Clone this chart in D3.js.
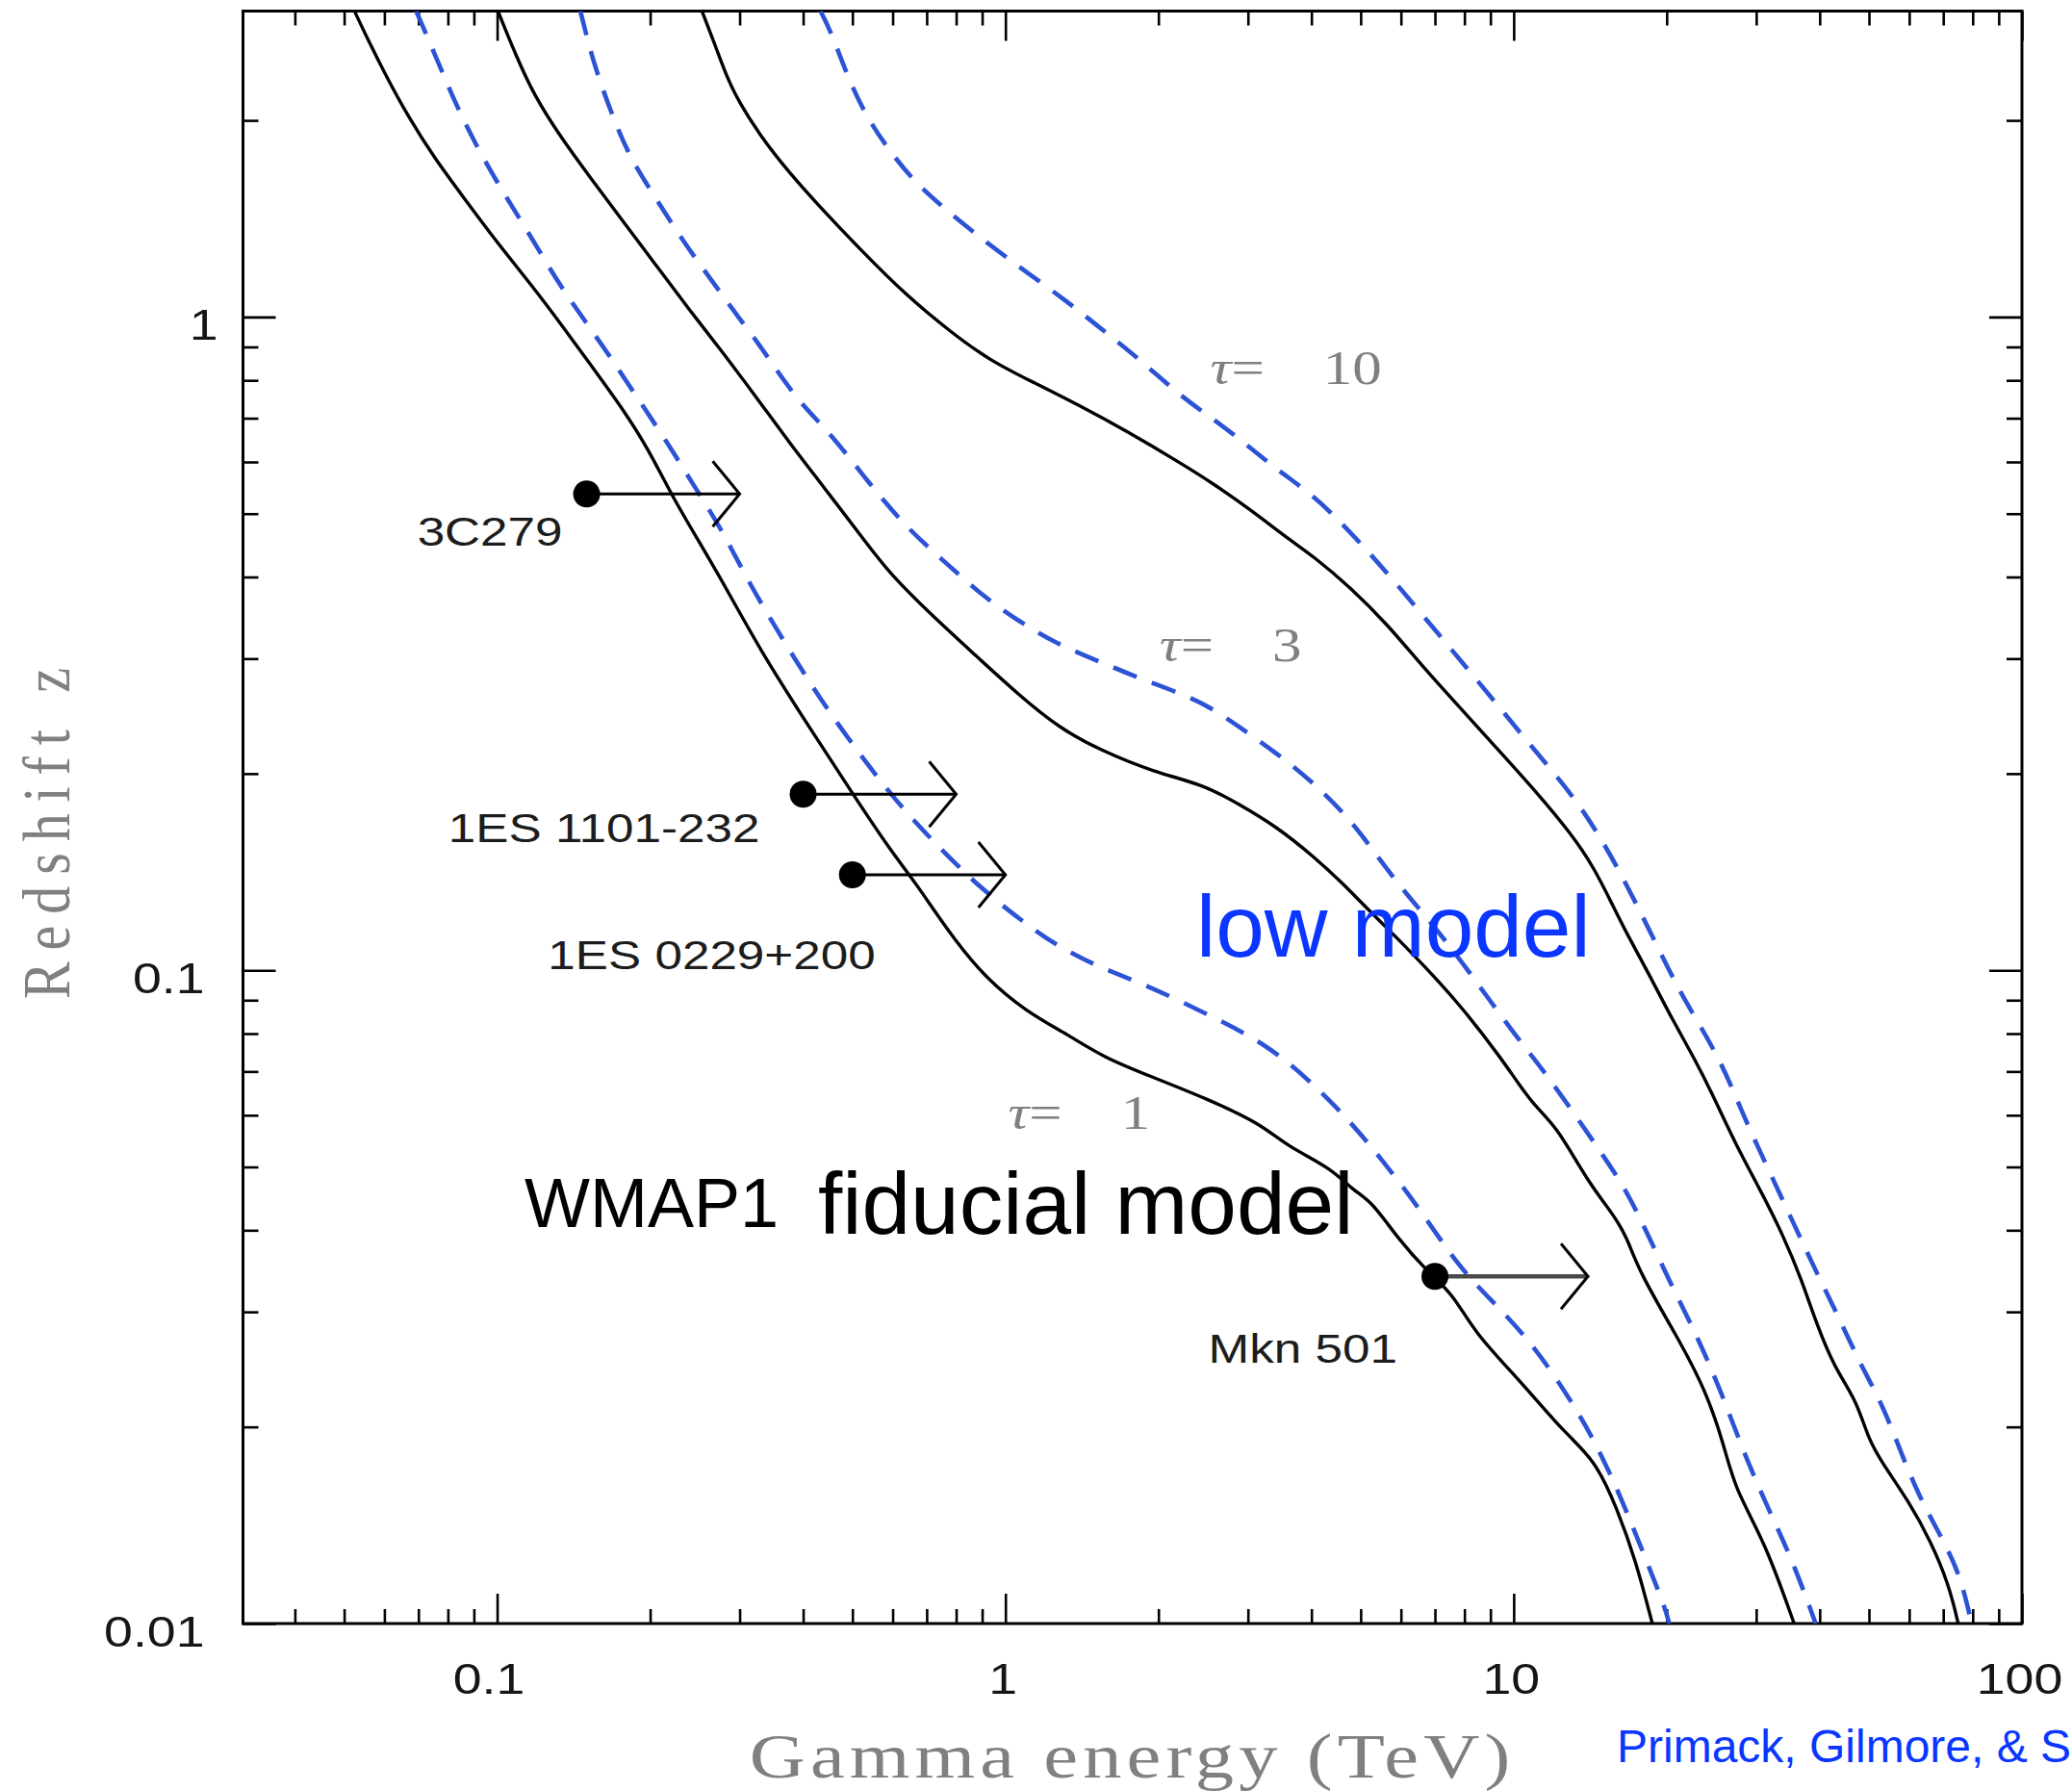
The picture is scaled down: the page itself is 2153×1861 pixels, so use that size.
<!DOCTYPE html>
<html>
<head>
<meta charset="utf-8">
<script src="https://cdn.jsdelivr.net/npm/d3@7"></script>
<style>
  html, body { margin: 0; padding: 0; background: #fff; }
  svg { display: block; }
</style>
</head>
<body>
<svg id="chart" width="2153" height="1861"></svg>
<script>
// Gamma-ray horizon: energy (TeV) at which the optical depth reaches tau, versus redshift z.
// Each curve is a list of [energy TeV, redshift].
const tau1Fiducial = [[0.0524,2.94],[0.0558,2.65],[0.0606,2.33],[0.0670,2.02],[0.0753,1.75],[0.0861,1.52],[0.100,1.30],[0.1163,1.125],[0.1352,0.963],[0.1545,0.835],[0.1766,0.724],[0.1986,0.627],[0.2195,0.537],[0.2467,0.460],[0.2795,0.390],[0.3302,0.308],[0.4035,0.241],[0.5013,0.186],[0.5925,0.153],[0.6664,0.136],[0.7613,0.1165],[0.900,0.0983],[1.099,0.0864],[1.321,0.0799],[1.562,0.0735],[1.940,0.0687],[2.479,0.0637],[3.184,0.0582],[3.580,0.0538],[4.374,0.0498],[4.834,0.0460],[5.255,0.0443],[5.909,0.0389],[6.752,0.0346],[7.592,0.0320],[8.392,0.0278],[10.32,0.0235],[12.57,0.0196],[14.46,0.0178],[15.98,0.0150],[17.38,0.0125],[18.74,0.0100]];
const tau1Low = [[0.0693,2.94],[0.0766,2.453],[0.0833,2.099],[0.0921,1.796],[0.1035,1.537],[0.1163,1.332],[0.1307,1.140],[0.1470,1.00],[0.1652,0.880],[0.1888,0.752],[0.2158,0.644],[0.2467,0.544],[0.2772,0.4716],[0.3141,0.3896],[0.3650,0.3206],[0.4314,0.2604],[0.5099,0.2172],[0.6025,0.1834],[0.7120,0.1590],[0.8700,0.1361],[1.045,0.1211],[1.257,0.1091],[1.536,0.1009],[1.898,0.0949],[2.479,0.0859],[3.237,0.0774],[3.956,0.0680],[4.753,0.0589],[5.526,0.0511],[6.529,0.0432],[7.719,0.0355],[8.979,0.0314],[10.79,0.0271],[12.85,0.0222],[14.46,0.0190],[16.26,0.0156],[17.97,0.01286],[19.86,0.01058],[20.23,0.0100]];
const tau3Fiducial = [[0.1002,2.95],[0.1088,2.517],[0.1183,2.182],[0.1330,1.891],[0.1520,1.640],[0.1766,1.404],[0.2053,1.201],[0.2386,1.027],[0.2772,0.885],[0.3239,0.753],[0.3758,0.642],[0.4378,0.551],[0.5375,0.4467],[0.5925,0.405],[0.7120,0.351],[0.8700,0.3043],[1.063,0.2638],[1.278,0.2347],[1.536,0.2172],[1.966,0.2009],[2.445,0.1926],[2.890,0.1794],[3.415,0.1659],[4.035,0.1495],[4.613,0.1358],[5.100,0.1252],[5.909,0.1119],[6.982,0.0978],[7.980,0.0870],[9.428,0.0735],[10.25,0.0668],[11.14,0.0613],[12.19,0.0574],[14.01,0.0474],[15.70,0.0423],[16.69,0.0391],[17.67,0.0345],[20.88,0.02766],[23.87,0.02277],[25.94,0.01874],[27.28,0.01603],[31.17,0.01337],[35.63,0.0100]];
const tau3Low = [[0.1458,2.94],[0.1545,2.453],[0.1680,2.045],[0.1826,1.75],[0.2053,1.52],[0.2307,1.315],[0.2638,1.140],[0.3015,0.988],[0.3258,0.914],[0.3445,0.857],[0.3925,0.741],[0.4550,0.661],[0.5378,0.558],[0.6358,0.4776],[0.7613,0.4212],[0.8999,0.3747],[1.063,0.3421],[1.257,0.3164],[1.536,0.2965],[1.877,0.2779],[2.445,0.2580],[2.890,0.2355],[3.415,0.2151],[4.035,0.1939],[4.770,0.1703],[5.452,0.1476],[6.129,0.1313],[6.752,0.1203],[7.719,0.1057],[8.820,0.0916],[10.08,0.0795],[11.36,0.0708],[13.23,0.0600],[15.00,0.0520],[16.59,0.0463],[18.26,0.0398],[20.53,0.0327],[23.08,0.0273],[25.51,0.02277],[28.19,0.0185],[31.17,0.0154],[35.05,0.0127],[38.76,0.0103],[39.27,0.0100]];
const tau10Fiducial = [[0.2529,2.94],[0.2698,2.581],[0.2831,2.331],[0.2983,2.141],[0.3282,1.902],[0.3733,1.672],[0.4302,1.478],[0.5200,1.265],[0.6358,1.082],[0.7768,0.951],[0.9333,0.857],[1.140,0.793],[1.394,0.733],[1.732,0.669],[2.225,0.596],[2.554,0.557],[3.041,0.5066],[3.622,0.456],[4.035,0.4303],[4.770,0.3858],[5.638,0.3388],[6.661,0.290],[7.875,0.2514],[9.305,0.2179],[10.99,0.1889],[13.00,0.1616],[14.37,0.1438],[15.62,0.1263],[16.69,0.1138],[18.37,0.0994],[20.31,0.0853],[22.70,0.0732],[24.68,0.0643],[27.28,0.0543],[30.66,0.0459],[33.89,0.0393],[36.86,0.0336],[39.40,0.0288],[42.82,0.0246],[47.35,0.0219],[49.79,0.0192],[53.22,0.01756],[59.83,0.0154],[66.13,0.01337],[71.90,0.01144],[74.91,0.0100]];
const tau10Low = [[0.4327,2.94],[0.4550,2.721],[0.4864,2.359],[0.5289,2.045],[0.5846,1.819],[0.6573,1.619],[0.7636,1.459],[0.9177,1.30],[1.103,1.170],[1.326,1.055],[1.566,0.951],[1.851,0.857],[2.188,0.762],[2.509,0.706],[2.890,0.651],[3.415,0.584],[4.035,0.534],[4.770,0.469],[5.638,0.406],[6.661,0.3477],[7.875,0.2975],[9.305,0.2546],[10.99,0.2172],[13.00,0.1864],[14.85,0.1595],[16.42,0.1383],[17.85,0.1218],[19.44,0.1064],[21.68,0.0898],[25.51,0.0732],[28.19,0.0603],[31.70,0.0496],[35.63,0.0408],[39.40,0.0345],[43.54,0.0295],[48.14,0.0249],[53.22,0.0216],[57.85,0.01825],[62.88,0.0156],[69.53,0.01354],[75.56,0.01189],[79.62,0.0100]];

const tauValues = [1, 3, 10];

// Observed blazars: redshift and highest detected energy (TeV); arrows mark lower limits.
const sourceNames = ["3C279", "1ES 1101-232", "1ES 0229+200", "Mkn 501"];
const sourceEnergy = [0.15, 0.4, 0.5, 7];
const sourceRedshift = [0.536, 0.186, 0.14, 0.034];
const arrowFactor = 2;

const xTickLabels = [0.1, 1, 10, 100];
const yTickLabels = [0.01, 0.1, 1];

// ---------------------------------------------------------------------------
const W = 2153, H = 1861;
const plot = { left: 252.5, right: 2101, top: 11.5, bottom: 1687 };
const STRETCH = 1.22;           // the figure's lettering is set wide
const SANS = "'Liberation Sans', Arial, Helvetica, sans-serif";
const SERIF = "'Liberation Serif', 'Times New Roman', serif";
const BLUE_TEXT = "#0a36ff";
const DASH_BLUE = "#2c52d6";
const GREY = "#808080";

const svg = d3.select("#chart");
svg.append("rect").attr("width", W).attr("height", H).attr("fill", "#fff");

const x = d3.scaleLog().domain([Math.pow(10, -1.5), 100]).range([plot.left, plot.right]);
const y = d3.scaleLog().domain([0.01, 2.94]).range([plot.bottom, plot.top]);

// minor tick values 2..9 in each decade inside the domain
function minorTicks(scale, decades) {
  const [lo, hi] = scale.domain();
  const out = [];
  decades.forEach(d => {
    for (let k = 2; k <= 9; k++) {
      const v = +(k * d).toPrecision(3);
      if (v > lo && v < hi) out.push(v);
    }
  });
  return out;
}
const xMinor = minorTicks(x, [0.01, 0.1, 1, 10]);
const yMinor = minorTicks(y, [0.01, 0.1, 1]);

function drawAxis(gen, transform, values, size, withLabels) {
  const g = svg.append("g")
    .attr("transform", transform)
    .call(gen.tickValues(values).tickSize(size).tickSizeOuter(0)
      .tickFormat(withLabels ? (d => String(d)) : ""));
  g.select(".domain").remove();
  g.selectAll(".tick line").attr("stroke", "#000").attr("stroke-width", 2.6);
  g.attr("font-family", SANS).attr("font-size", 44);
  return g;
}

// bottom and top (ticks point inward)
drawAxis(d3.axisBottom(x), `translate(0,${plot.bottom})`, xMinor, -15, false);
const gxb = drawAxis(d3.axisBottom(x), `translate(0,${plot.bottom})`, xTickLabels, -31, true);
gxb.selectAll(".tick text")
  .attr("x", 0).attr("y", 0).attr("dy", null)
  .attr("fill", "#161616")
  .attr("transform", d => `translate(${d < 1 ? -9 : -3},73) scale(${STRETCH},1)`);
drawAxis(d3.axisTop(x), `translate(0,${plot.top})`, xMinor, -15, false);
drawAxis(d3.axisTop(x), `translate(0,${plot.top})`, xTickLabels, -31, false);

// left and right
drawAxis(d3.axisLeft(y), `translate(${plot.left},0)`, yMinor, -16, false);
const gyl = drawAxis(d3.axisLeft(y), `translate(${plot.left},0)`, yTickLabels, -34, true);
gyl.selectAll(".tick text")
  .attr("x", 0).attr("y", 0).attr("dy", null)
  .attr("fill", "#161616")
  .attr("transform", d => `translate(${d === 1 ? -26 : -40},23) scale(${STRETCH},1)`);
drawAxis(d3.axisRight(y), `translate(${plot.right},0)`, yMinor, -16, false);
drawAxis(d3.axisRight(y), `translate(${plot.right},0)`, yTickLabels, -34, false);

// plot frame
svg.append("rect")
  .attr("x", plot.left).attr("y", plot.top)
  .attr("width", plot.right - plot.left).attr("height", plot.bottom - plot.top)
  .attr("fill", "none").attr("stroke", "#000").attr("stroke-width", 3);

// curves
svg.append("clipPath").attr("id", "plotClip")
  .append("rect")
  .attr("x", plot.left).attr("y", plot.top)
  .attr("width", plot.right - plot.left).attr("height", plot.bottom - plot.top);

const curveLine = d3.line()
  .x(d => x(d[0]))
  .y(d => y(d[1]))
  .curve(d3.curveBasis);

const curves = [
  { data: tau1Fiducial, low: false },
  { data: tau1Low, low: true },
  { data: tau3Fiducial, low: false },
  { data: tau3Low, low: true },
  { data: tau10Fiducial, low: false },
  { data: tau10Low, low: true }
];
const gCurves = svg.append("g").attr("clip-path", "url(#plotClip)");
gCurves.selectAll("path.curve")
  .data(curves)
  .join("path")
  .attr("class", "curve")
  .attr("d", c => curveLine(c.data))
  .attr("fill", "none")
  .attr("stroke", c => c.low ? DASH_BLUE : "#000")
  .attr("stroke-width", c => c.low ? 4.6 : 3.4)
  .attr("stroke-dasharray", c => c.low ? "26,17" : null)
  .attr("stroke-linejoin", "round");

// helper for wide-set lettering
function wideText(parent, px, py, str, opts) {
  return parent.append("text")
    .attr("transform", `translate(${px},${py}) scale(${STRETCH},1)`)
    .attr("text-anchor", opts.anchor || "start")
    .attr("font-family", opts.family || SANS)
    .attr("font-size", opts.size)
    .attr("fill", opts.fill || "#000")
    .text(str);
}

// tau labels, anchored in data coordinates
const tauLabelAt = [[1.012, 0.0571], [2.01, 0.2975], [2.53, 0.790]];
tauValues.forEach((t, i) => {
  const el = wideText(svg, x(tauLabelAt[i][0]), y(tauLabelAt[i][1]), "", { family: SERIF, size: 50, fill: GREY });
  el.append("tspan").attr("font-style", "italic").text("τ");
  el.append("tspan").text("=");
  el.append("tspan").attr("dx", "1.0em").text(String(t));
});

// sources: dot + lower-limit arrow + name
const gSrc = svg.append("g");
const labelOffset = [[-25, 54], [-45, 50], [24, 98], [-39, 90]];
sourceNames.forEach((name, i) => {
  const cx = x(sourceEnergy[i]);
  const cy = y(sourceRedshift[i]);
  const tip = x(sourceEnergy[i] * arrowFactor);
  const isLast = i === sourceNames.length - 1;
  gSrc.append("line")
    .attr("x1", cx).attr("y1", cy).attr("x2", tip).attr("y2", cy)
    .attr("stroke", isLast ? "#4a4a4a" : "#000")
    .attr("stroke-width", isLast ? 4.5 : 3);
  gSrc.append("path")
    .attr("d", `M${tip - 28},${cy - 34}L${tip},${cy}L${tip - 28},${cy + 34}`)
    .attr("fill", "none").attr("stroke", "#000").attr("stroke-width", 3);
  gSrc.append("circle").attr("cx", cx).attr("cy", cy).attr("r", 14).attr("fill", "#000");
  wideText(gSrc, cx + labelOffset[i][0], cy + labelOffset[i][1], name,
    { anchor: "end", size: 42, fill: "#1c1c1c" });
});

// axis titles
svg.append("text")
  .attr("transform", `translate(1174,1847) scale(${STRETCH},1)`)
  .attr("text-anchor", "middle")
  .attr("font-family", SERIF).attr("font-size", 66).attr("fill", GREY)
  .attr("textLength", 648).attr("lengthAdjust", "spacing")
  .text("Gamma energy (TeV)");
svg.append("text")
  .attr("transform", `translate(72,866) scale(${STRETCH},1) rotate(-90)`)
  .attr("text-anchor", "middle")
  .attr("font-family", SERIF).attr("font-size", 58).attr("fill", GREY)
  .attr("textLength", 344).attr("lengthAdjust", "spacing")
  .text("Redshift z");

// model annotations
svg.append("text").attr("x", 1243).attr("y", 994)
  .attr("font-family", SANS).attr("font-size", 91).attr("fill", BLUE_TEXT)
  .text("low model");
svg.append("text").attr("x", 545).attr("y", 1275)
  .attr("font-family", SANS).attr("font-size", 72).attr("fill", "#000")
  .text("WMAP1");
svg.append("text").attr("x", 850).attr("y", 1282)
  .attr("font-family", SANS).attr("font-size", 91).attr("fill", "#000")
  .text("fiducial model");
svg.append("text").attr("x", 1680).attr("y", 1831)
  .attr("font-family", SANS).attr("font-size", 48).attr("fill", BLUE_TEXT)
  .text("Primack, Gilmore, & S");
</script>
</body>
</html>
